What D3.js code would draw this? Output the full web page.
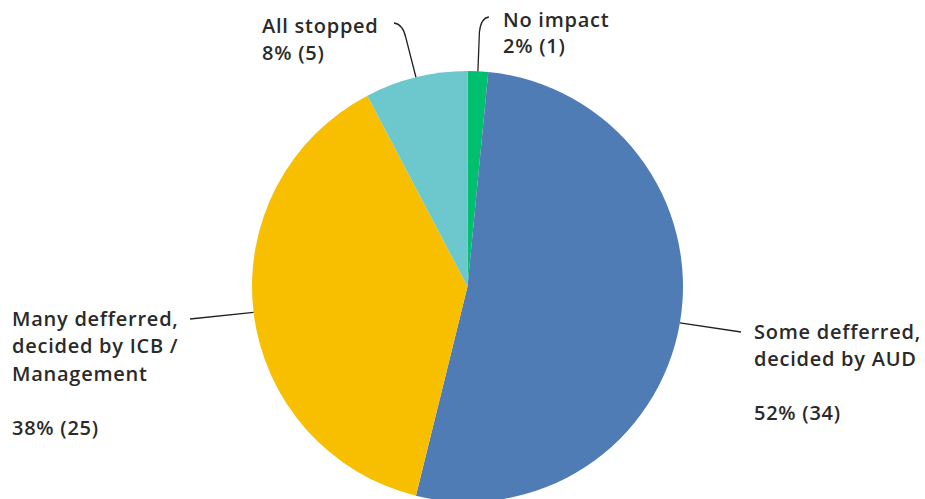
<!DOCTYPE html>
<html><head><meta charset="utf-8">
<script src="https://cdn.jsdelivr.net/npm/d3@7"></script>
<style>
html,body{margin:0;padding:0;background:#fff;}
svg{display:block;}
text{font-family:"Open Sans",sans-serif;font-size:20px;font-weight:600;letter-spacing:0.75px;fill:#2a2a2a;}
</style></head>
<body><svg id="chart" width="925" height="499"></svg>
<script>
const categories = ["No impact", "Some defferred, decided by AUD", "Many defferred, decided by ICB / Management", "All stopped"];
const values = [1, 34, 25, 5];
const percentLabels = ["2% (1)", "52% (34)", "38% (25)", "8% (5)"];
const colors = ["#00BF6F", "#4F7CB5", "#F8BE00", "#6CC8CC"];

const svg = d3.select("#chart");
const cx = 467.5, cy = 286.5, R = 215.5;
const g = svg.append("g").attr("transform", `translate(${cx},${cy})`);

const pie = d3.pie().sort(null).value(d => d)(values);
const arc = d3.arc().innerRadius(0).outerRadius(R);
g.selectAll("path.slice").data(pie).join("path")
  .attr("class","slice").attr("d", arc).attr("fill",(d,i)=>colors[i]);

const layouts = [
  {lines:["No impact"], first:{x:503,y:27}, pctY:53,
   leader:(p)=>`M${p[0]},${p[1]} L${p[0]+1.5},32 Q${p[0]+3},18 ${p[0]+11},17`},
  {lines:["Some defferred,","decided by AUD"], first:{x:754,y:339}, pctY:420,
   leader:(p)=>`M${p[0]},${p[1]} L741,332`},
  {lines:["Many defferred,","decided by ICB /","Management"], first:{x:12,y:326}, pctY:435,
   leader:(p)=>`M${p[0]},${p[1]} L190,319`},
  {lines:["All stopped"], first:{x:262,y:33}, pctY:60,
   leader:(p)=>`M${p[0]},${p[1]} L${p[0]-10},38 Q${p[0]-13},24 ${p[0]-22},23`}
];

pie.forEach((d,i)=>{
  const a = (d.startAngle + d.endAngle)/2;
  const p = [cx + R*Math.sin(a), cy - R*Math.cos(a)];
  const L = layouts[i];
  svg.append("path").attr("d", L.leader(p)).attr("fill","none")
    .attr("stroke","#222").attr("stroke-width",1.3);
  const t = svg.append("text").attr("x",L.first.x).attr("y",L.first.y);
  L.lines.forEach((ln,j)=>{
    t.append("tspan").attr("x",L.first.x).attr("y",L.first.y + j*27.3).text(ln);
  });
  svg.append("text").attr("x",L.first.x).attr("y",L.pctY).text(percentLabels[i]);
});
</script></body></html>
